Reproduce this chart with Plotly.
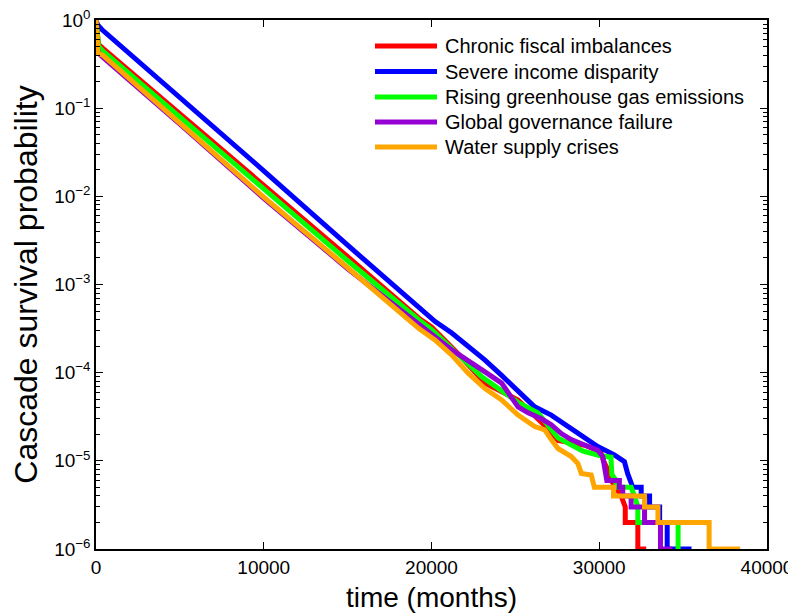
import plotly.graph_objects as go

# ---------------- data ----------------
series_names = [
    "Chronic fiscal imbalances",
    "Severe income disparity",
    "Rising greenhouse gas emissions",
    "Global governance failure",
    "Water supply crises",
]
series_colors = ["#FF0000", "#0000FF", "#00FF00", "#9400D3", "#FFA500"]

x_red = [0, 50, 150, 400, 5000, 10000, 15000, 19230, 20000, 21500, 23200, 25160, 26500, 27540,
         29140, 30090, 30250, 30500, 30700, 31000, 31300, 31550, 31550, 32300, 32300, 32800]
y_red = [1.0, 0.7, 0.53, 0.48, 0.0873, 0.01365, 2.07e-3, 4.17e-4, 3.3e-4, 1.7e-4, 7.6e-5, 4.9e-5,
         2.8e-5, 1.7e-5, 1.5e-5, 1.26e-5, 1.0e-5, 8e-6, 6e-6, 5e-6, 4e-6, 3e-6, 2e-6, 2e-6, 1e-6, 1e-6]

x_blue = [0, 100, 350, 5000, 10000, 15000, 19230, 20220, 21210, 22200, 23190, 24180, 25160, 26150,
          27140, 28130, 29120, 29910, 30900, 31500, 31690, 31890, 32000, 32500, 32500, 33000, 33000,
          33600, 33600, 34050, 34050, 35500]
y_blue = [1.0, 0.88, 0.78, 0.133, 0.0195, 2.79e-3, 5.37e-4, 3.8e-4, 2.82e-4, 1.97e-4, 1.39e-4, 9.3e-5,
          6.3e-5, 4.1e-5, 3.3e-5, 2.45e-5, 1.86e-5, 1.45e-5, 1.17e-5, 9.8e-6, 7.2e-6, 5.6e-6, 5e-6,
          5e-6, 4e-6, 4e-6, 3e-6, 3e-6, 2e-6, 2e-6, 1e-6, 1e-6]

x_green = [0, 50, 150, 400, 5000, 10000, 15000, 19230, 20000, 21500, 23000, 25160, 26350, 27540,
           28540, 29000, 30000, 30700, 30750, 31000, 31000, 31900, 32100, 32300, 32300, 34700, 34700,
           34850]
y_green = [1.0, 0.66, 0.5, 0.447, 0.0794, 0.012, 1.86e-3, 3.98e-4, 3.1e-4, 1.66e-4, 9e-5, 4.6e-5,
           3.5e-5, 1.82e-5, 1.45e-5, 1.3e-5, 1.15e-5, 1.1e-5, 7e-6, 6e-6, 5e-6, 5e-6, 4e-6, 3e-6,
           2e-6, 2e-6, 1e-6, 1e-6]

x_purple = [0, 40, 150, 400, 5000, 10000, 15000, 19230, 21210, 23190, 24180, 25160, 25760, 26550,
            27140, 27740, 28330, 29120, 29910, 30210, 30350, 30450, 31200, 31200, 31400, 31400,
            31900, 31900, 32700, 32700, 33650, 33650, 34350]
y_purple = [1.0, 0.55, 0.42, 0.38, 0.066, 9.5e-3, 1.51e-3, 3.55e-4, 1.81e-4, 1.02e-4, 7.6e-5, 4.1e-5,
            3.5e-5, 3.0e-5, 2.57e-5, 2.04e-5, 1.74e-5, 1.51e-5, 1.32e-5, 1.12e-5, 8e-6, 6e-6, 6e-6,
            5e-6, 5e-6, 4e-6, 4e-6, 3e-6, 3e-6, 2e-6, 2e-6, 1e-6, 1e-6]

x_orange = [0, 30, 120, 400, 5000, 10000, 15000, 19230, 20220, 21210, 22200, 23190, 24180, 25160,
            26150, 26750, 27140, 27540, 28330, 28730, 28930, 29520, 29710, 30850, 30850, 32700,
            32700, 33500, 33500, 36550, 36550, 38400]
y_orange = [1.0, 0.6, 0.42, 0.40, 0.0672, 9.8e-3, 1.55e-3, 3.18e-4, 2.34e-4, 1.58e-4, 9.8e-5, 6.6e-5,
            4.9e-5, 3.3e-5, 2.45e-5, 2.24e-5, 1.74e-5, 1.38e-5, 1.12e-5, 9.3e-6, 7.2e-6, 6.9e-6,
            5e-6, 5e-6, 4e-6, 4e-6, 3e-6, 3e-6, 2e-6, 2e-6, 1e-6, 1e-6]

x_tick_vals = [0, 10000, 20000, 30000, 40000]
y_tick_exps = [0, -1, -2, -3, -4, -5, -6]

x_title = "time (months)"
y_title = "Cascade survival probability"

# ---------------- figure ----------------
FONT = "Liberation Sans, Arial, Helvetica, sans-serif"
# the page body adds an 8 px margin, so the figure is 8 px smaller on each axis
W, H = 788, 605
L, R, T, B = 88, 29, 12, 64
PW, PH = W - L - R, H - T - B

xs = [x_red, x_blue, x_green, x_purple, x_orange]
ys = [y_red, y_blue, y_green, y_purple, y_orange]

fig = go.Figure()
for name, color, xv, yv in zip(series_names, series_colors, xs, ys):
    fig.add_trace(go.Scatter(x=xv, y=yv, mode="lines", name=name,
                             line=dict(color=color, width=5), showlegend=False))

# y tick labels like 10^-k
y_tick_vals = [10.0 ** e for e in y_tick_exps]
y_tick_text = ["10<sup>%s</sup>" % (str(e) if e >= 0 else "\u2212" + str(-e)) for e in y_tick_exps]
minor_vals = [k * 10.0 ** e for e in range(-6, 0) for k in range(2, 10)]

fig.update_xaxes(range=[0, 40000], tickvals=x_tick_vals, ticktext=[str(v) for v in x_tick_vals],
                 ticks="inside", ticklen=7, tickwidth=1.2, tickcolor="black",
                 showline=True, linecolor="black", linewidth=1.5, mirror="allticks",
                 showgrid=False, zeroline=False, automargin=False, ticklabeloverflow="allow",
                 tickfont=dict(family=FONT, size=19, color="black"),
                 title=dict(text=x_title, font=dict(family=FONT, size=28, color="black"), standoff=12))
fig.update_yaxes(type="log", range=[-6, 0], tickvals=y_tick_vals, ticktext=y_tick_text,
                 ticks="inside", ticklen=7, tickwidth=1.2, tickcolor="black",
                 minor=dict(tickvals=minor_vals, ticks="inside", ticklen=4, tickcolor="black",
                            tickwidth=1, showgrid=False),
                 showline=True, linecolor="black", linewidth=1.5, mirror="allticks",
                 showgrid=False, zeroline=False, automargin=False, ticklabeloverflow="allow",
                 tickfont=dict(family=FONT, size=19, color="black"),
                 title=dict(text=y_title, font=dict(family=FONT, size=32, color="black"), standoff=10))

# manual legend (long line samples like the reference); positions given in screen pixels
OFF = 8
row_px = [46, 71.5, 97, 122, 147]
line_x0_px, line_x1_px, text_x_px = 375, 437, 443
for name, color, py in zip(series_names, series_colors, row_px):
    yp = (H - B - (py - OFF)) / PH
    fig.add_shape(type="line", xref="paper", yref="paper",
                  x0=(line_x0_px - OFF - L) / PW, x1=(line_x1_px - OFF - L) / PW, y0=yp, y1=yp,
                  line=dict(color=color, width=5))
    fig.add_annotation(xref="paper", yref="paper", x=(text_x_px - OFF - L) / PW, y=yp,
                       text=name, showarrow=False, xanchor="left", yanchor="middle",
                       font=dict(family=FONT, size=20, color="black"))

fig.update_layout(width=W, height=H, margin=dict(l=L, r=R, t=T, b=B),
                  paper_bgcolor="white", plot_bgcolor="white", showlegend=False)

fig.write_html("out.html")
